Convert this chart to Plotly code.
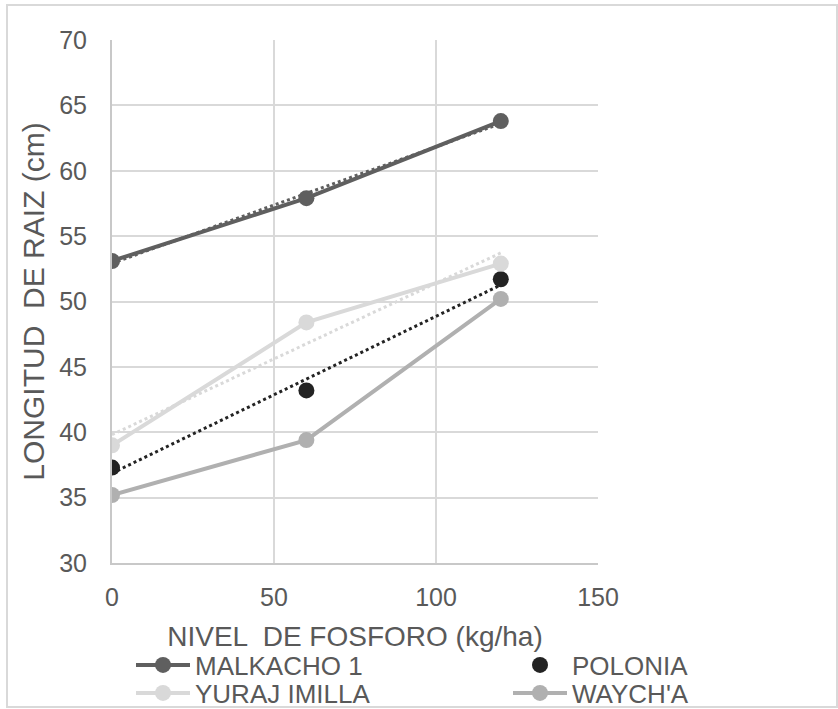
import numpy as np
import plotly.graph_objects as go

fosforo = [0, 60, 120]
malkacho = [53.1, 57.9, 63.8]
polonia = [37.3, 43.2, 51.7]
yuraj = [39.0, 48.4, 52.9]
waycha = [35.2, 39.4, 50.2]

c_malk = "#5f5f5f"
c_pol = "#232323"
c_yur = "#d9d9d9"
c_way = "#b0b0b0"

FONT = "Liberation Sans, Arial, sans-serif"
TXT = "#595959"

fig = go.Figure()

def trend(y, color):
    m, b = np.polyfit(fosforo, y, 1)
    xs = [fosforo[0], fosforo[-1]]
    fig.add_trace(go.Scatter(x=xs, y=[m * v + b for v in xs], mode="lines",
                             line=dict(color=color, width=3, dash="dot"),
                             showlegend=False, hoverinfo="skip"))

trend(malkacho, c_malk)
trend(yuraj, c_yur)
trend(polonia, c_pol)

fig.add_trace(go.Scatter(x=fosforo, y=malkacho, name="MALKACHO 1", mode="lines+markers",
                         line=dict(color=c_malk, width=4), marker=dict(size=16, color=c_malk),
                         legend="legend"))
fig.add_trace(go.Scatter(x=fosforo, y=polonia, name="POLONIA", mode="markers",
                         marker=dict(size=16, color=c_pol), legend="legend2"))
fig.add_trace(go.Scatter(x=fosforo, y=yuraj, name="YURAJ IMILLA", mode="lines+markers",
                         line=dict(color=c_yur, width=4), marker=dict(size=16, color=c_yur),
                         legend="legend3"))
fig.add_trace(go.Scatter(x=fosforo, y=waycha, name="WAYCH'A", mode="lines+markers",
                         line=dict(color=c_way, width=4), marker=dict(size=16, color=c_way),
                         legend="legend4"))

L, R, T, B = 112, 598, 40, 563
W, H = 838, 709
pw, ph = R - L, B - T

def px(x):
    return (x - L) / pw

def py(y):
    return (B - y) / ph

def leg(xpix, ypix):
    return dict(x=px(xpix), y=py(ypix), xanchor="left", yanchor="middle", orientation="v",
                font=dict(size=26, color=TXT), bgcolor="rgba(0,0,0,0)",
                itemwidth=54, borderwidth=0)

fig.update_layout(
    width=W, height=H,
    margin=dict(l=L, r=W - R, t=T, b=H - B, autoexpand=False),
    paper_bgcolor="white", plot_bgcolor="white",
    font=dict(family=FONT, color=TXT, size=25),
    xaxis=dict(range=[0, 150], tickvals=[0, 50, 100, 150], showgrid=True,
               gridcolor="#d9d9d9", gridwidth=2, showline=True, linecolor="#c8c8c8",
               linewidth=2, zeroline=False, ticks="", ticklabelstandoff=11,
               tickfont=dict(size=25),
               title=dict(text="NIVEL  DE FOSFORO (kg/ha)", font=dict(size=28), standoff=16)),
    yaxis=dict(range=[30, 70], dtick=5, showgrid=True, gridcolor="#d9d9d9", gridwidth=2,
               showline=True, linecolor="#c8c8c8", linewidth=2, zeroline=False, ticks="",
               ticklabelstandoff=18, tickfont=dict(size=25),
               title=dict(text="LONGITUD  DE RAIZ (cm)", font=dict(size=30), standoff=6)),
    legend=leg(131, 665),
    legend2=leg(508, 665),
    legend3=leg(131, 693),
    legend4=leg(508, 693),
    shapes=[dict(type="rect", xref="paper", yref="paper",
                 x0=px(7), x1=px(837), y0=py(707), y1=py(5),
                 line=dict(color="#d9d9d9", width=2), layer="below")],
)

fig.write_html("out.html")
